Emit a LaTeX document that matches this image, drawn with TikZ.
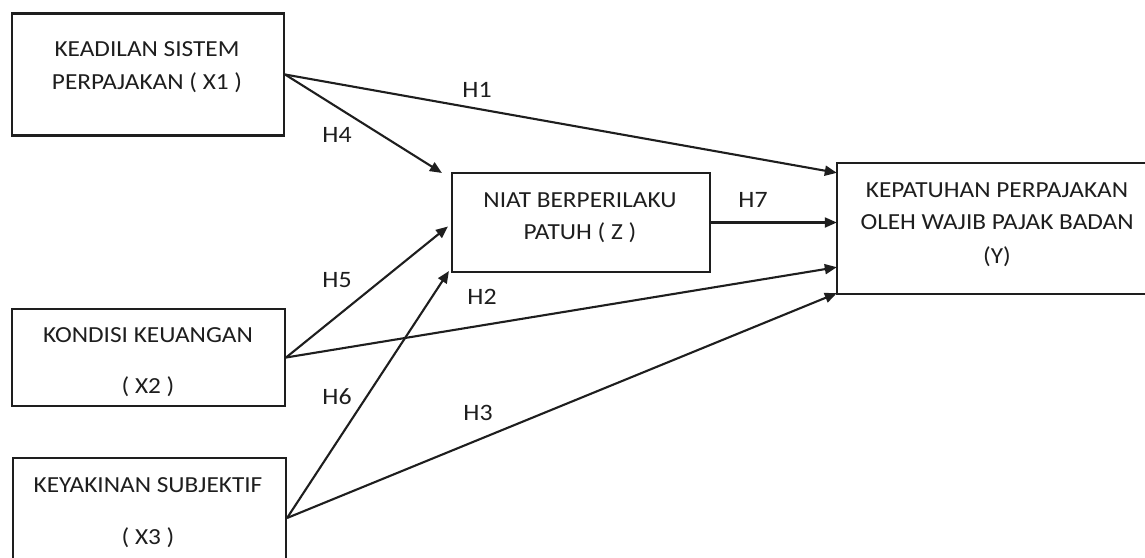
\documentclass[tikz,border=0pt]{standalone}
\usepackage{fontspec}
\setmainfont{Carlito}[FakeStretch=1.1]
\usetikzlibrary{arrows.meta,calc}
\definecolor{ink}{RGB}{30,30,30}
\begin{document}
\begin{tikzpicture}[x=1pt,y=-1pt,
  box/.style={draw=ink,line width=2.1pt,inner sep=0pt},
  btext/.style={text=ink,font=\fontsize{23}{27}\selectfont,inner sep=0pt,anchor=center},
  hlab/.style={text=ink,font=\fontsize{23.5}{27}\selectfont,inner sep=0pt},
  conn/.style={draw=ink,line width=2.1pt,-{Triangle[length=12pt,width=10pt]}}]
\useasboundingbox (0,0) rectangle (1145,557);
\clip (0,0) rectangle (1145,557);
\fill[white] (0,0) rectangle (1145,557);
% boxes
\node[box,minimum width=272pt,minimum height=122pt] (X1) at (148,74.5) {};
\node[box,minimum width=273pt,minimum height=97pt] (X2) at (148.5,357.5) {};
\node[box,minimum width=273pt,minimum height=120pt] (X3) at (149.5,518) {};
\node[box,minimum width=258pt,minimum height=99pt] (Z) at (581,222.5) {};
\node[inner sep=0pt,minimum width=360pt,minimum height=131pt] (Y) at (1017,228.5) {};
\draw[draw=ink,line width=2.1pt] (Y.north east) -- (Y.north west) -- (Y.south west) -- (Y.south east);
% texts
\node[btext] (t1a) at (147,49) {KEADILAN SISTEM};
\node[btext] (t1b) at (147,83) {PERPAJAKAN ( X1 )};
\node[btext] (t2a) at (148,335) {KONDISI KEUANGAN};
\node[btext] (t2b) at (148,387) {( X2 )};
\node[btext] (t3a) at (148,485) {KEYAKINAN SUBJEKTIF};
\node[btext] (t3b) at (148,538) {( X3 )};
\node[btext] (tza) at (580,200) {NIAT BERPERILAKU};
\node[btext] (tzb) at (580,233) {PATUH ( Z )};
\node[btext] (tya) at (997,190) {KEPATUHAN PERPAJAKAN};
\node[btext] (tyb) at (997,222) {OLEH WAJIB PAJAK BADAN};
\node[btext] (tyc) at (997,257) {(Y)};
% connector endpoints
\coordinate (yH1) at ([yshift=-10pt]Y.north west);
\coordinate (yH2) at ([yshift=27pt]Y.south west);
\coordinate (yH3) at ([yshift=1pt]Y.south west);
\coordinate (zH4) at ([xshift=-9pt,yshift=-1pt]Z.north west);
\coordinate (zH5) at ([xshift=-3pt,yshift=-4pt]Z.west);
\coordinate (zH6) at ([xshift=-2pt,yshift=2pt]Z.south west);
% connectors
\draw[conn] (X1.east) -- (yH1);
\draw[conn] (X1.east) -- (zH4);
\draw[conn] (X2.east) -- (zH5);
\draw[conn] (X2.east) -- (yH2);
\draw[conn] (X3.east) -- (zH6);
\draw[conn] (X3.east) -- (yH3);
\draw[conn] (Z.east) -- (Z.east -| Y.west);
% labels
\node[hlab] (h1) at (477,90) {H1};
\node[hlab] (h4) at (337,135) {H4};
\node[hlab] (h5) at (337,280) {H5};
\node[hlab] (h2) at (482,297) {H2};
\node[hlab] (h6) at (337,397) {H6};
\node[hlab] (h3) at (478,413) {H3};
\node[hlab] (h7) at (753,200) {H7};
\end{tikzpicture}
\end{document}
